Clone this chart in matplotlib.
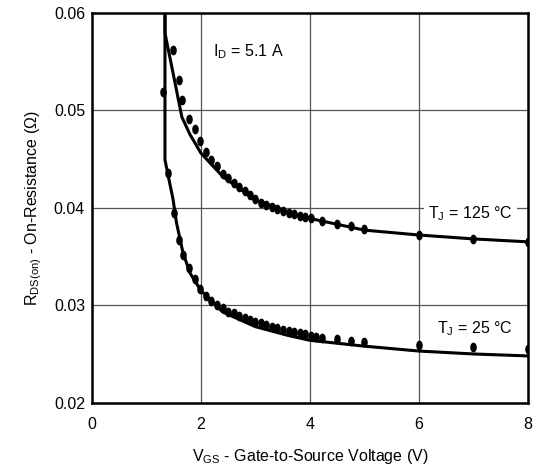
import matplotlib
matplotlib.use("Agg")
import matplotlib.pyplot as plt
from matplotlib.markers import MarkerStyle
from matplotlib.transforms import Affine2D

plt.rcParams['font.family'] = ['Liberation Sans', 'DejaVu Sans']
plt.rcParams['mathtext.fontset'] = 'custom'
plt.rcParams['mathtext.rm'] = 'Liberation Sans'

# measured points, TJ = 125 C
vgs_125 = [1.49, 1.60, 1.66, 1.78, 1.89, 1.99, 2.09, 2.19, 2.30, 2.40, 2.50, 2.60, 2.70, 2.81,
           2.90, 3.00, 3.10, 3.20, 3.30, 3.40, 3.51, 3.61, 3.71, 3.82, 3.92, 4.02, 4.22,
           4.50, 4.75, 5.00, 6.00, 7.00, 8.00]
rds_125 = [0.0562, 0.0531, 0.0510, 0.0491, 0.0481, 0.0468, 0.0457, 0.0449, 0.0443, 0.0435,
           0.0430, 0.0425, 0.0421, 0.0417, 0.0413, 0.04086, 0.04051, 0.04028, 0.0401, 0.0399,
           0.0397, 0.03949, 0.03935, 0.03918, 0.03901, 0.0389, 0.03866,
           0.03833, 0.0381, 0.03778, 0.0372, 0.0368, 0.0365]

# measured points, TJ = 25 C
vgs_25 = [1.30, 1.40, 1.51, 1.60, 1.68, 1.79, 1.89, 1.99, 2.09, 2.19, 2.30, 2.40, 2.50, 2.60,
          2.70, 2.81, 2.90, 3.00, 3.10, 3.20, 3.30, 3.40, 3.51, 3.61, 3.71, 3.82, 3.92, 4.02,
          4.12, 4.23, 4.49, 4.75, 5.00, 6.00, 7.00, 8.00]
rds_25 = [0.0519, 0.04353, 0.03943, 0.03669, 0.0351, 0.03378, 0.03266, 0.0317, 0.03095,
          0.03045, 0.03002, 0.02968, 0.02933, 0.02917, 0.02889, 0.02866, 0.02848, 0.02831,
          0.02814, 0.02797, 0.0278, 0.02763, 0.02746, 0.02738, 0.02722, 0.02712, 0.02702,
          0.02684, 0.02677, 0.0266, 0.0265, 0.02636, 0.02626, 0.02592, 0.02574, 0.02548]

# model curves
line_v_125 = [1.34, 1.34, 1.50, 1.65, 1.80, 2.00, 2.40, 3.00, 3.60, 4.00, 5.00, 6.00, 7.00, 8.00]
line_r_125 = [0.0600, 0.0579, 0.0535, 0.0493, 0.0475, 0.0456, 0.0432, 0.0408, 0.0396, 0.0389,
              0.0377, 0.0372, 0.0368, 0.0365]
line_v_25 = [1.34, 1.34, 1.49, 1.55, 1.67, 1.80, 2.00, 2.40, 3.00, 3.60, 4.00, 5.00, 6.00, 7.00, 8.00]
line_r_25 = [0.0600, 0.0449, 0.0408, 0.0385, 0.0354, 0.0333, 0.0315, 0.0293, 0.0278, 0.0269,
             0.0264, 0.0258, 0.0253, 0.0250, 0.0248]

fig = plt.figure(figsize=(5.37, 4.68), dpi=100)
ax = fig.add_axes([0.1713, 0.1395, 0.8114, 0.8334])

dot = MarkerStyle('o', transform=Affine2D().scale(0.62, 1.0))

ax.plot(line_v_125, line_r_125, color='black', lw=2.2, zorder=3)
ax.plot(line_v_25, line_r_25, color='black', lw=2.2, zorder=3)
ax.plot(vgs_125, rds_125, ls='none', marker=dot, ms=6, color='black', zorder=4)
ax.plot(vgs_25, rds_25, ls='none', marker=dot, ms=6, color='black', zorder=4)

ax.set_xlim(0, 8)
ax.set_ylim(0.02, 0.06)
ax.set_xticks([0, 2, 4, 6, 8])
ax.set_yticks([0.02, 0.03, 0.04, 0.05, 0.06])
ax.set_yticklabels(['0.02', '0.03', '0.04', '0.05', '0.06'])
ax.tick_params(axis='both', length=0, labelsize=11.5)
ax.tick_params(axis='x', pad=10)
ax.tick_params(axis='y', pad=5)
ax.grid(True, color='#555555', lw=0.9)
ax.set_axisbelow(True)
for s in ax.spines.values():
    s.set_linewidth(1.8)

ax.set_xlabel(r'V$_\mathregular{GS}$ - Gate-to-Source Voltage (V)', fontsize=11.5, labelpad=11)
ax.set_ylabel(r'R$_\mathregular{DS(on)}$ - On-Resistance (Ω)', fontsize=11.5, labelpad=7)

ax.text(2.22, 0.0560, r'I$_\mathregular{D}$ = 5.1 A', fontsize=11.5, va='center', ha='left')
ax.text(7.72, 0.0394, r'T$_\mathregular{J}$ = 125 °C', fontsize=11.5, va='center', ha='right',
        bbox=dict(facecolor='white', edgecolor='none', pad=3), zorder=5)
ax.text(7.72, 0.0276, r'T$_\mathregular{J}$ = 25 °C', fontsize=11.5, va='center', ha='right',
        bbox=dict(facecolor='white', edgecolor='none', pad=3), zorder=5)

fig.savefig('out.png', dpi=100)
